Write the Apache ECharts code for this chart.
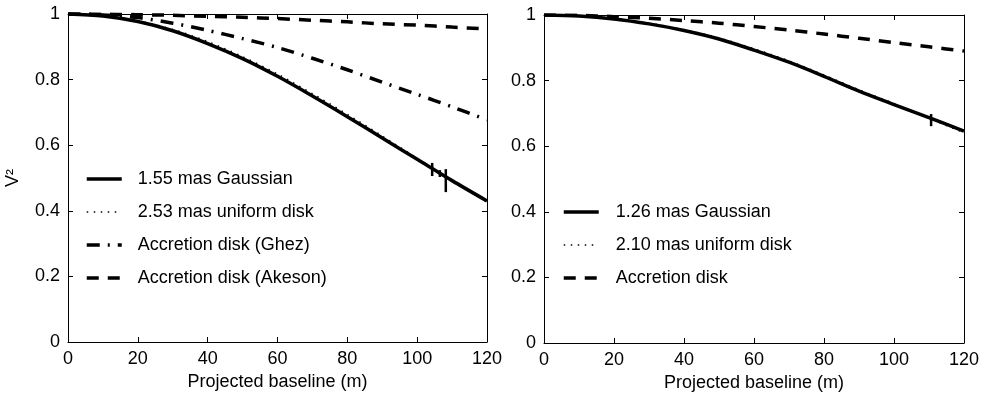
<!DOCTYPE html>
<html>
<head>
<meta charset="utf-8">
<script src="https://cdn.jsdelivr.net/npm/echarts@6/dist/echarts.min.js"></script>
<style>
  html, body { margin: 0; padding: 0; background: #fff; }
  #chart { width: 989px; height: 393px; }
</style>
</head>
<body>
<div id="chart"></div>
<script>
// projected baseline (m)
const baseline = [0, 10, 20, 30, 40, 50, 60, 70, 80, 90, 100, 110, 120];

// left panel
const gaussLeft = [1, 0.994, 0.977, 0.949, 0.910, 0.864, 0.810, 0.750, 0.687, 0.622, 0.557, 0.492, 0.430];
const udLeft = [1, 0.994, 0.979, 0.953, 0.916, 0.870, 0.817, 0.757, 0.694, 0.628, 0.560, 0.492, 0.427];
const ghezLeft = [1, 0.997, 0.989, 0.972, 0.950, 0.925, 0.898, 0.865, 0.830, 0.792, 0.755, 0.717, 0.677];
const akesonLeft = [1, 0.9995, 0.998, 0.996, 0.993, 0.990, 0.986, 0.981, 0.976, 0.970, 0.966, 0.960, 0.954];
// [baseline, low, high]
const errLeft = [[104.3, 0.506, 0.546], [106.5, 0.503, 0.524], [108.2, 0.457, 0.527]];

// right panel
const gaussRight = [1, 0.997, 0.988, 0.973, 0.953, 0.927, 0.893, 0.856, 0.813, 0.768, 0.727, 0.687, 0.646];
const udRight = [1, 0.997, 0.989, 0.975, 0.955, 0.930, 0.897, 0.860, 0.817, 0.772, 0.730, 0.685, 0.641];
const diskRight = [1, 0.999, 0.995, 0.990, 0.983, 0.975, 0.965, 0.954, 0.942, 0.929, 0.916, 0.903, 0.890];
const errRight = [[110.6, 0.661, 0.698]];

const xTicks = [0, 20, 40, 60, 80, 100, 120];
const yTicks = [0, 0.2, 0.4, 0.6, 0.8, 1];

const FONT = 'Liberation Sans';
const pairs = (vals) => baseline.map((b, i) => [b, vals[i]]);

const styles = {
  solid: { color: '#000', width: 3.5, type: 'solid' },
  dotted: { color: '#000', width: 1.5, type: [1.5, 5.5] },
  dashdot: { color: '#000', width: 3.5, type: [13, 8, 2, 8] },
  dashed: { color: '#000', width: 3.5, type: [12, 9] }
};

const xAxisBase = (gridIndex, position) => ({
  type: 'value',
  gridIndex,
  position,
  min: xTicks[0],
  max: xTicks[xTicks.length - 1],
  interval: 20,
  axisLine: { show: true, onZero: false, lineStyle: { color: '#000', width: 1 } },
  axisTick: { show: true, inside: true, length: 5, lineStyle: { color: '#000' } },
  axisLabel: {
    show: position === 'bottom',
    color: '#000',
    fontFamily: FONT,
    fontSize: 18,
    margin: 8
  },
  splitLine: { show: false },
  name: position === 'bottom' ? 'Projected baseline (m)' : '',
  nameLocation: 'middle',
  nameGap: 30,
  nameTextStyle: { color: '#000', fontFamily: FONT, fontSize: 18 }
});

const yAxisBase = (gridIndex, position, withName) => ({
  type: 'value',
  gridIndex,
  position,
  min: yTicks[0],
  max: yTicks[yTicks.length - 1],
  interval: 0.2,
  axisLine: { show: true, onZero: false, lineStyle: { color: '#000', width: 1 } },
  axisTick: { show: true, inside: true, length: 5, lineStyle: { color: '#000' } },
  axisLabel: {
    show: position === 'left',
    color: '#000',
    fontFamily: FONT,
    fontSize: 18,
    margin: 8,
    formatter: (v) => String(+v.toFixed(1))
  },
  splitLine: { show: false },
  name: withName ? 'V²' : '',
  nameLocation: 'middle',
  nameGap: 46,
  nameTextStyle: { color: '#000', fontFamily: FONT, fontSize: 18 }
});

const lineSeries = (name, vals, style, idx) => ({
  name,
  type: 'line',
  xAxisIndex: idx,
  yAxisIndex: idx,
  data: pairs(vals),
  smooth: 0.3,
  symbol: 'none',
  lineStyle: style,
  itemStyle: { color: '#000' },
  emphasis: { disabled: true },
  z: 3
});

const errSeries = (data, idx) => ({
  type: 'custom',
  xAxisIndex: idx,
  yAxisIndex: idx,
  data,
  z: 4,
  renderItem: (params, api) => {
    const lo = api.coord([api.value(0), api.value(1)]);
    const hi = api.coord([api.value(0), api.value(2)]);
    return {
      type: 'line',
      shape: { x1: lo[0], y1: lo[1], x2: hi[0], y2: hi[1] },
      style: { stroke: '#000', lineWidth: 2.5 }
    };
  }
});

const legendItem = (name, style) => ({ name, lineStyle: { width: style.width, type: style.type } });

const legendBase = (left, top, items, padLeft) => ({
  orient: 'vertical',
  left,
  top,
  padding: 0,
  itemGap: 15,
  itemWidth: 35,
  itemHeight: 14,
  data: items,
  selectedMode: false,
  itemStyle: { opacity: 0 },
  textStyle: { color: '#000', fontFamily: FONT, fontSize: 18, padding: [0, 0, 0, padLeft] }
});

const chart = echarts.init(document.getElementById('chart'), null, { renderer: 'canvas' });

chart.setOption({
  animation: false,
  backgroundColor: '#fff',
  grid: [
    { left: 68, top: 14, width: 419, height: 328, outerBoundsMode: 'none' },
    { left: 544, top: 15, width: 420, height: 328, outerBoundsMode: 'none' }
  ],
  xAxis: [
    xAxisBase(0, 'bottom'),
    xAxisBase(1, 'bottom'),
    xAxisBase(0, 'top'),
    xAxisBase(1, 'top')
  ],
  yAxis: [
    yAxisBase(0, 'left', true),
    yAxisBase(1, 'left', false),
    yAxisBase(0, 'right', false),
    yAxisBase(1, 'right', false)
  ],
  legend: [
    legendBase(85, 170, [
      legendItem('1.55 mas Gaussian', styles.solid),
      legendItem('2.53 mas uniform disk', styles.dotted),
      legendItem('Accretion disk (Ghez)', styles.dashdot),
      legendItem('Accretion disk (Akeson)', styles.dashed)
    ], 11),
    legendBase(562, 203, [
      legendItem('1.26 mas Gaussian', styles.solid),
      legendItem('2.10 mas uniform disk', styles.dotted),
      legendItem('Accretion disk', styles.dashed)
    ], 12)
  ],
  series: [
    lineSeries('1.55 mas Gaussian', gaussLeft, styles.solid, 0),
    lineSeries('2.53 mas uniform disk', udLeft, styles.dotted, 0),
    lineSeries('Accretion disk (Ghez)', ghezLeft, styles.dashdot, 0),
    lineSeries('Accretion disk (Akeson)', akesonLeft, styles.dashed, 0),
    errSeries(errLeft, 0),
    lineSeries('1.26 mas Gaussian', gaussRight, styles.solid, 1),
    lineSeries('2.10 mas uniform disk', udRight, styles.dotted, 1),
    lineSeries('Accretion disk', diskRight, styles.dashed, 1),
    errSeries(errRight, 1)
  ]
});
</script>
</body>
</html>
